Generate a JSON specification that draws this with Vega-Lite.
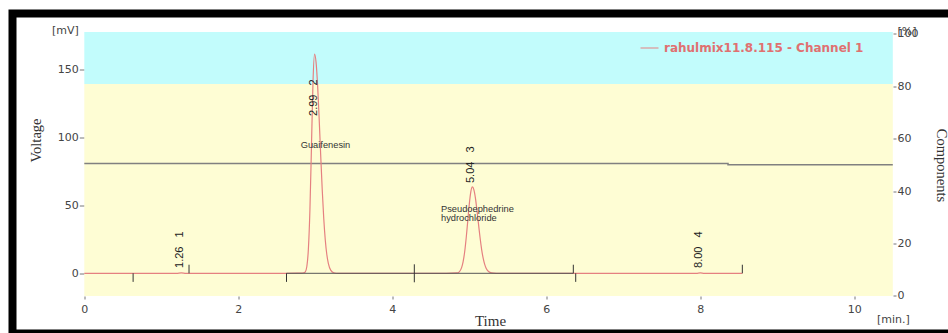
{
  "$schema": "https://vega.github.io/schema/vega-lite/v6.json",
  "width": 944,
  "height": 320,
  "autosize": {"type": "none"},
  "padding": {"left": 12.5, "top": 13.5, "right": -8.5, "bottom": -0.5},
  "background": "white",
  "config": {
    "view": {"stroke": "black", "strokeWidth": 8, "fill": "white"},
    "axis": {
      "grid": false,
      "domain": false,
      "labelFont": "DejaVu Sans",
      "labelFontSize": 11,
      "labelColor": "#444444",
      "tickColor": "#777777",
      "titleFont": "Liberation Serif",
      "titleFontSize": 14.5,
      "titleFontWeight": "normal",
      "titleColor": "#333333",
      "labelOverlap": false,
      "labelFlush": false
    }
  },
  "datasets": {
    "zones": [
      {"zone": "upper", "t": 0, "t2": 10.5, "p": 80.76, "p2": 100.57},
      {"zone": "lower", "t": 0, "t2": 10.5, "p": 0, "p2": 80.76}
    ],
    "components": [
      {"t": 0, "p": 50.5},
      {"t": 8.36, "p": 50.5},
      {"t": 8.36, "p": 50.0},
      {"t": 10.5, "p": 50.0}
    ],
    "trace": [
      {"t": 0, "v": 0}, {"t": 0.6, "v": 0}, {"t": 1.2, "v": 0}, {"t": 1.26, "v": 0.3}, {"t": 1.32, "v": 0},
      {"t": 2.0, "v": 0}, {"t": 2.6, "v": 0}, {"t": 2.82, "v": 0.1}, {"t": 2.85, "v": 0.4},
      {"t": 2.87, "v": 1.1}, {"t": 2.89, "v": 5.0}, {"t": 2.91, "v": 17.6}, {"t": 2.93, "v": 46.3},
      {"t": 2.95, "v": 92.5}, {"t": 2.97, "v": 140.2}, {"t": 2.99, "v": 161},
      {"t": 3.01, "v": 154.9}, {"t": 3.03, "v": 138}, {"t": 3.05, "v": 113.8}, {"t": 3.07, "v": 86.8},
      {"t": 3.09, "v": 61.3}, {"t": 3.11, "v": 40.1}, {"t": 3.13, "v": 24.3}, {"t": 3.15, "v": 13.6},
      {"t": 3.17, "v": 7.1}, {"t": 3.2, "v": 2.3}, {"t": 3.24, "v": 0.4}, {"t": 3.3, "v": 0},
      {"t": 4.0, "v": 0}, {"t": 4.7, "v": 0}, {"t": 4.84, "v": 0.25}, {"t": 4.87, "v": 1.1},
      {"t": 4.9, "v": 4.2}, {"t": 4.92, "v": 8.6}, {"t": 4.94, "v": 15.8}, {"t": 4.96, "v": 26.1},
      {"t": 4.98, "v": 38.5}, {"t": 5.0, "v": 50.8}, {"t": 5.02, "v": 60}, {"t": 5.04, "v": 63.4},
      {"t": 5.06, "v": 61.2}, {"t": 5.08, "v": 55}, {"t": 5.1, "v": 46}, {"t": 5.12, "v": 35.9},
      {"t": 5.14, "v": 26.1}, {"t": 5.16, "v": 17.6}, {"t": 5.18, "v": 11.1}, {"t": 5.2, "v": 6.5},
      {"t": 5.22, "v": 3.6}, {"t": 5.25, "v": 1.3}, {"t": 5.29, "v": 0.25}, {"t": 5.35, "v": 0},
      {"t": 6.0, "v": 0}, {"t": 7.0, "v": 0}, {"t": 7.95, "v": 0}, {"t": 8.0, "v": 0.3}, {"t": 8.05, "v": 0},
      {"t": 8.546, "v": 0}
    ],
    "baselines": [
      {"t": 2.626, "t2": 4.286},
      {"t": 4.286, "t2": 6.351}
    ],
    "markers": [
      {"t": 0.634, "kind": "start"},
      {"t": 1.36, "kind": "end"},
      {"t": 2.626, "kind": "start"},
      {"t": 4.286, "kind": "both"},
      {"t": 6.351, "kind": "end"},
      {"t": 6.382, "kind": "start"},
      {"t": 8.546, "kind": "end"}
    ],
    "peaks": [
      {"t": 1.26, "v": 3.9, "label": "1.26\u00a0\u00a0\u00a01"},
      {"t": 2.99, "v": 115.5, "label": "2.99\u00a0\u00a0\u00a02"},
      {"t": 5.04, "v": 66.3, "label": "5.04\u00a0\u00a0\u00a03"},
      {"t": 8.0, "v": 3.9, "label": "8.00\u00a0\u00a0\u00a04"}
    ],
    "names": [
      {"t": 2.81, "v": 91.8, "name": "Guaifenesin"},
      {"t": 4.632, "v": 45.3, "name": "Pseudoephedrine\nhydrochloride"}
    ]
  },
  "layer": [
    {
      "layer": [
        {
          "data": {"name": "zones"},
          "mark": {"type": "rect"},
          "encoding": {
            "x": {
              "field": "t", "type": "quantitative",
              "scale": {"domain": [-0.93247, 11.3273], "nice": false, "zero": false},
              "axis": {
                "orient": "bottom", "offset": -37.5,
                "values": [0, 2, 4, 6, 8, 10, 10.5],
                "labelExpr": "datum.value > 10.2 ? '[min.]' : format(datum.value, 'd')",
                "tickSize": 3,
                "tickOpacity": {"condition": {"test": "datum.value > 10.2", "value": 0}, "value": 1},
                "labelPadding": {"condition": {"test": "datum.value > 10.2", "value": 14}, "value": 4},
                "title": "Time", "titleX": 477.5, "titleY": 24, "titleBaseline": "middle", "titleFontSize": 15
              }
            },
            "x2": {"field": "t2"},
            "y": {
              "field": "p", "type": "quantitative",
              "scale": {"domain": [-14.286, 107.62], "nice": false, "zero": false},
              "axis": {
                "orient": "right", "offset": -63.5,
                "values": [0, 20, 40, 60, 80, 100, 100.76],
                "labelExpr": "datum.value > 100.5 ? '[%]' : datum.label",
                "tickSize": 3,
                "tickOpacity": {"condition": {"test": "datum.value > 100.5", "value": 0}, "value": 1},
                "labelPadding": 1,
                "title": "Components", "titleX": 47, "titleY": 151.5, "titleAngle": 90, "titleBaseline": "middle"
              }
            },
            "y2": {"field": "p2"},
            "color": {
              "field": "zone", "type": "nominal",
              "scale": {"domain": ["upper", "lower"], "range": ["#C2FCFC", "#FEFDD4"]},
              "legend": null
            }
          }
        },
        {
          "data": {"name": "components"},
          "mark": {"type": "line", "color": "#808080", "strokeWidth": 1.5},
          "encoding": {
            "x": {"field": "t", "type": "quantitative"},
            "y": {"field": "p", "type": "quantitative"}
          }
        }
      ]
    },
    {
      "layer": [
        {
          "data": {"name": "trace"},
          "mark": {"type": "line", "strokeWidth": 1.2, "interpolate": "monotone"},
          "encoding": {
            "x": {"field": "t", "type": "quantitative"},
            "y": {
              "field": "v", "type": "quantitative",
              "scale": {"domain": [-44.2, 190.75], "nice": false, "zero": false},
              "axis": {
                "orient": "left", "offset": -71.8,
                "values": [0, 50, 100, 150, 178.6],
                "labelExpr": "datum.value > 170 ? '[mV]' : datum.label",
                "tickSize": 5,
                "tickOpacity": {"condition": {"test": "datum.value > 170", "value": 0}, "value": 1},
                "labelPadding": 1,
                "title": "Voltage", "titleX": -47.6, "titleY": 126.5, "titleAngle": 270, "titleBaseline": "middle"
              }
            },
            "stroke": {
              "datum": "rahulmix11.8.115 - Channel 1", "type": "nominal",
              "scale": {"range": ["#E58080"]},
              "legend": {
                "orient": "none", "legendX": 627.5, "legendY": 25, "title": null,
                "symbolType": "stroke", "symbolSize": 324, "symbolStrokeWidth": 1,
                "labelFont": "DejaVu Sans", "labelFontSize": 12, "labelFontWeight": "bold",
                "labelColor": "#E07070", "labelOffset": 5, "labelLimit": 400, "padding": 0
              }
            }
          }
        },
        {
          "data": {"name": "baselines"},
          "mark": {"type": "rule", "color": "#555555", "strokeWidth": 1},
          "encoding": {
            "x": {"field": "t", "type": "quantitative"},
            "x2": {"field": "t2"},
            "y": {"datum": 0, "type": "quantitative"}
          }
        },
        {
          "data": {"name": "markers"},
          "transform": [{"filter": "datum.kind === 'start'"}],
          "mark": {"type": "rule", "color": "#333333", "strokeWidth": 1},
          "encoding": {
            "x": {"field": "t", "type": "quantitative"},
            "y": {"datum": 0, "type": "quantitative"},
            "y2": {"datum": -6.3}
          }
        },
        {
          "data": {"name": "markers"},
          "transform": [{"filter": "datum.kind === 'end'"}],
          "mark": {"type": "rule", "color": "#333333", "strokeWidth": 1},
          "encoding": {
            "x": {"field": "t", "type": "quantitative"},
            "y": {"datum": 0, "type": "quantitative"},
            "y2": {"datum": 6.3}
          }
        },
        {
          "data": {"name": "markers"},
          "transform": [{"filter": "datum.kind === 'both'"}],
          "mark": {"type": "rule", "color": "#333333", "strokeWidth": 1},
          "encoding": {
            "x": {"field": "t", "type": "quantitative"},
            "y": {"datum": -6.6, "type": "quantitative"},
            "y2": {"datum": 6.6}
          }
        },
        {
          "data": {"name": "peaks"},
          "mark": {"type": "text", "angle": 270, "align": "left", "baseline": "middle", "font": "Liberation Sans", "fontSize": 11, "color": "#222222", "dy": -1},
          "encoding": {
            "x": {"field": "t", "type": "quantitative"},
            "y": {"field": "v", "type": "quantitative"},
            "text": {"field": "label", "type": "nominal"}
          }
        },
        {
          "data": {"name": "names"},
          "mark": {"type": "text", "align": "left", "baseline": "alphabetic", "font": "Liberation Sans", "fontSize": 9.3, "color": "#333333", "lineBreak": "\n", "lineHeight": 9.5},
          "encoding": {
            "x": {"field": "t", "type": "quantitative"},
            "y": {"field": "v", "type": "quantitative"},
            "text": {"field": "name", "type": "nominal"}
          }
        }
      ]
    }
  ],
  "resolve": {"scale": {"y": "independent"}, "axis": {"y": "independent"}}
}
